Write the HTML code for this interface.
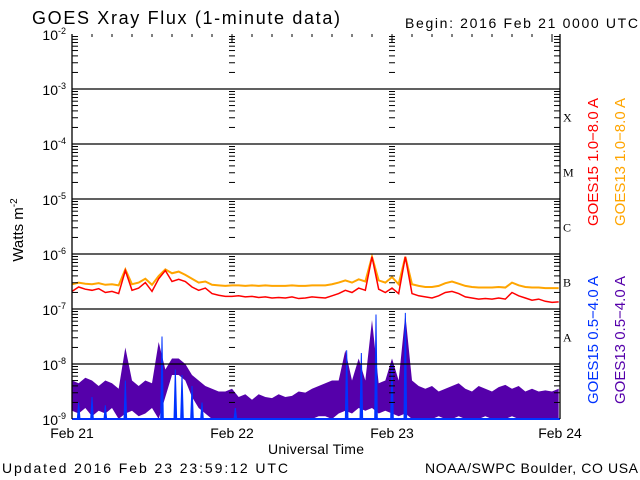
<!DOCTYPE html>
<html><head><meta charset="utf-8"><style>
body{margin:0;background:#fff;width:640px;height:480px;overflow:hidden}
svg{display:block;font-family:"Liberation Sans",sans-serif}
</style></head><body>
<svg id="chart" width="640" height="480" viewBox="0 0 640 480" xmlns="http://www.w3.org/2000/svg">
<rect x="0" y="0" width="640" height="480" fill="#fff"/>
<text x="32" y="24" font-size="18" fill="#000" textLength="308" lengthAdjust="spacing">GOES Xray Flux (1-minute data)</text>
<text x="405" y="28" font-size="14" fill="#000" textLength="233" lengthAdjust="spacing">Begin:  2016 Feb 21 0000 UTC</text>
<g id="series"></g>
<g id="axes"></g>
<text transform="translate(23,230) rotate(-90)" font-size="15" text-anchor="middle">Watts m<tspan font-size="10" dy="-6">-2</tspan></text>
<text x="268" y="454" font-size="14" textLength="96" lengthAdjust="spacing">Universal Time</text>
<text x="2" y="473" font-size="14" textLength="286" lengthAdjust="spacing">Updated 2016 Feb 23 23:59:12 UTC</text>
<text x="425" y="473" font-size="14" textLength="213" lengthAdjust="spacing">NOAA/SWPC Boulder, CO USA</text>
<text transform="translate(598,162) rotate(-90)" font-size="15" fill="#ff0000" text-anchor="middle">GOES15 1.0−8.0 A</text>
<text transform="translate(625,162) rotate(-90)" font-size="15" fill="#ffa500" text-anchor="middle">GOES13 1.0−8.0 A</text>
<text transform="translate(598,340) rotate(-90)" font-size="15" fill="#0033ff" text-anchor="middle">GOES15 0.5−4.0 A</text>
<text transform="translate(625,340) rotate(-90)" font-size="15" fill="#5500aa" text-anchor="middle">GOES13 0.5−4.0 A</text>
</svg>
<script>
const NS="http://www.w3.org/2000/svg";
const dayLabels=["Feb 21","Feb 22","Feb 23","Feb 24"];
const decadeExps=[-2,-3,-4,-5,-6,-7,-8,-9];
const classLabels=["X","M","C","B","A"];
const classExps=[-4,-5,-6,-7,-8];
// GOES15 long (log10 W/m2), hourly 0..73
const redLong=[-6.68,-6.60,-6.64,-6.66,-6.63,-6.70,-6.68,-6.72,-6.30,-6.66,-6.62,-6.52,-6.68,-6.45,-6.30,-6.50,-6.46,-6.50,-6.60,-6.66,-6.62,-6.72,-6.75,-6.77,
-6.77,-6.76,-6.78,-6.77,-6.79,-6.78,-6.80,-6.79,-6.80,-6.78,-6.81,-6.80,-6.78,-6.79,-6.80,-6.76,-6.72,-6.66,-6.70,-6.62,-6.66,-6.05,-6.64,-6.70,-6.62,-6.72,-6.05,-6.72,-6.76,-6.78,
-6.80,-6.76,-6.70,-6.68,-6.72,-6.78,-6.80,-6.82,-6.81,-6.82,-6.80,-6.82,-6.70,-6.76,-6.80,-6.84,-6.82,-6.86,-6.88,-6.87];
// GOES13 long
const orangeLong=[-6.55,-6.52,-6.54,-6.55,-6.53,-6.56,-6.55,-6.57,-6.28,-6.55,-6.52,-6.45,-6.56,-6.40,-6.28,-6.35,-6.32,-6.38,-6.45,-6.52,-6.50,-6.56,-6.57,-6.58,
-6.57,-6.57,-6.58,-6.57,-6.58,-6.57,-6.58,-6.58,-6.58,-6.57,-6.58,-6.58,-6.57,-6.57,-6.57,-6.55,-6.52,-6.48,-6.52,-6.46,-6.50,-6.05,-6.48,-6.52,-6.42,-6.55,-6.05,-6.55,-6.58,-6.60,
-6.60,-6.58,-6.53,-6.50,-6.54,-6.58,-6.60,-6.61,-6.61,-6.61,-6.60,-6.61,-6.52,-6.57,-6.60,-6.61,-6.61,-6.62,-6.62,-6.62];
// GOES13 short envelope, hourly
const purpleHigh=[-8.30,-8.35,-8.25,-8.30,-8.40,-8.30,-8.35,-8.45,-7.70,-8.30,-8.40,-8.30,-8.35,-7.60,-8.10,-7.90,-7.90,-8.00,-8.20,-8.30,-8.40,-8.45,-8.50,-8.50,
-8.45,-8.60,-8.55,-8.65,-8.55,-8.60,-8.62,-8.55,-8.60,-8.58,-8.50,-8.52,-8.45,-8.40,-8.35,-8.30,-8.30,-7.75,-8.30,-7.90,-8.30,-7.20,-8.35,-8.30,-7.90,-8.30,-7.10,-8.30,-8.40,
-8.45,-8.40,-8.50,-8.45,-8.40,-8.35,-8.45,-8.50,-8.40,-8.45,-8.50,-8.42,-8.38,-8.45,-8.40,-8.50,-8.45,-8.50,-8.48,-8.50,-8.45];
const purpleLow=[-8.85,-8.90,-8.80,-8.95,-8.85,-8.90,-8.80,-9.00,-8.90,-8.85,-8.95,-8.90,-8.80,-9.00,-8.60,-8.20,-8.20,-8.30,-8.60,-8.80,-8.90,-9.00,-9.00,-9.00,
-9.00,-9.00,-9.00,-9.00,-9.00,-9.00,-9.00,-9.00,-9.00,-9.00,-9.00,-9.00,-9.00,-8.95,-8.95,-9.00,-8.90,-8.85,-8.90,-8.80,-8.85,-8.80,-8.90,-8.85,-8.90,-8.95,-8.90,-9.00,-9.00,
-9.00,-9.00,-8.95,-9.00,-9.00,-8.95,-9.00,-9.00,-9.00,-8.95,-9.00,-9.00,-9.00,-8.95,-9.00,-9.00,-9.00,-9.00,-9.00,-9.00,-9.00];
// GOES15 short spikes (hours, log10 peak)
const blueTimes=[1,3,5,8,13.5,15.5,16.5,18,19.5,24.5,41.2,43.4,45.6,48,50];
const blueValues=[-8.7,-8.6,-8.75,-8.3,-7.5,-8.1,-8.2,-8.4,-8.7,-8.8,-7.75,-7.8,-7.1,-8.0,-7.07];

const X0=72,PX_DAY=160,XR=560,YTOP=34,PX_DEC=55,YBOT=419;
const xs=h=>Math.min(X0+h/24*PX_DAY,XR);
const ys=v=>YTOP+(-2-Math.max(v,-9))*PX_DEC;
const ser=document.getElementById('series'),ax=document.getElementById('axes');
function mk(tag,attrs,parent){const e=document.createElementNS(NS,tag);for(const k in attrs)e.setAttribute(k,attrs[k]);parent.appendChild(e);return e;}

decadeExps.forEach((d,i)=>{
 if(d>-9&&d<-2){const l=mk('line',{x1:X0,x2:XR,y1:ys(d),y2:ys(d),stroke:'#000','stroke-width':1.3},ax);
 
 }
 const t=mk('text',{x:66,y:ys(d)+6,'font-size':14,'text-anchor':'end'},ax);
 
 
 t.innerHTML='10<tspan font-size="9" dy="-6">'+d+'</tspan>';
 if(d>-9){for(let m=2;m<=9;m++){const y=ys(d-1+Math.log10(m));
  [[X0,X0+6],[XR-6,XR],[xs(24)-3,xs(24)+3],[xs(48)-3,xs(48)+3]].forEach(p=>mk('line',{x1:p[0],x2:p[1],y1:y,y2:y,stroke:'#000','stroke-width':1},ax));}}
});
mk('line',{x1:X0,x2:X0,y1:YTOP,y2:YBOT,stroke:'#000','stroke-width':1.3},ax);
mk('line',{x1:XR,x2:XR,y1:YTOP,y2:YBOT,stroke:'#000','stroke-width':1.3},ax);
for(let h=0;h<=73;h+=3){mk('line',{x1:xs(h),x2:xs(h),y1:YTOP,y2:YTOP+(h%24?3:8),stroke:'#000'},ax);}
dayLabels.forEach((s,i)=>{const t=mk('text',{x:i==3?XR:xs(i*24),y:438,'font-size':14,'text-anchor':'middle'},ax);
 
 
 t.textContent=s;});
classLabels.forEach((c,i)=>{const t=mk('text',{x:563,y:ys(classExps[i]+0.5)+5,'font-size':12,'font-family':'Liberation Serif, serif'},ax);
 
 
 t.textContent=c;});

let up=purpleHigh.map((v,i)=>xs(i)+','+ys(v)), lo=purpleLow.map((v,i)=>xs(i)+','+ys(v)).reverse();
const band=mk('polygon',{points:up.concat(lo).join(' '),fill:'#5500aa'},ser);


// blue spikes
blueTimes.forEach((t,i)=>{const p=mk('polygon',{points:[xs(t-0.2)+','+YBOT,xs(t)+','+ys(blueValues[i]),xs(t+0.2)+','+YBOT].join(' '),fill:'#0033ff',stroke:'#0033ff','stroke-width':1},ser);
 
 });
const bl=mk('line',{x1:X0,x2:XR,y1:YBOT,y2:YBOT,stroke:'#0033ff','stroke-width':2},ser);


const ol=mk('polyline',{points:orangeLong.map((v,i)=>xs(i)+','+ys(v)).join(' '),fill:'none',stroke:'#ffa500','stroke-width':2},ser);


const rl=mk('polyline',{points:redLong.map((v,i)=>xs(i)+','+ys(v)).join(' '),fill:'none',stroke:'#ff0000','stroke-width':1.5},ser);


</script>
</body></html>
